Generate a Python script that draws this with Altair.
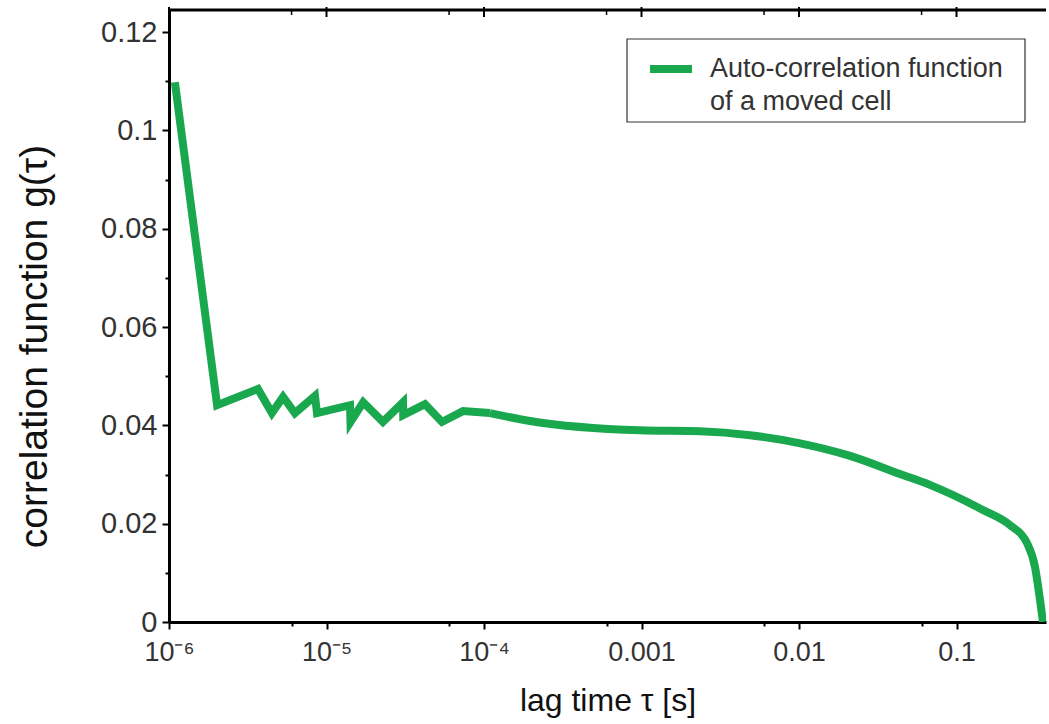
import altair as alt
import pandas as pd

# lag time tau [s] and correlation g(tau)
tau = [1.09e-6, 2.02e-6, 3.67e-6, 4.5e-6, 5.3e-6, 6.3e-6, 8.45e-6, 8.7e-6,
       1.41e-5, 1.42e-5, 1.71e-5, 2.28e-5, 3.06e-5, 3.07e-5, 4.22e-5, 5.41e-5,
       7.35e-5, 1.09e-4, 1.96e-4, 9.8e-4, 2.35e-3, 4.9e-3, 1.0e-2, 2.11e-2,
       4.38e-2, 6.77e-2, 0.147, 0.219, 0.28, 0.315, 0.339, 0.354]
g = [0.1098, 0.0441, 0.0474, 0.0425, 0.0458, 0.0425, 0.0460, 0.0425,
     0.0441, 0.0407, 0.0447, 0.0407, 0.0447, 0.0421, 0.0443, 0.0407,
     0.0429, 0.0425, 0.0409, 0.0390, 0.0388, 0.0380, 0.0364, 0.0338,
     0.0301, 0.0279, 0.0228, 0.0197, 0.0161, 0.0112, 0.0045, 0.0]

x_major = [1e-6, 1e-5, 1e-4, 1e-3, 1e-2, 1e-1]
x_major_labels = ["10⁻⁶", "10⁻⁵", "10⁻⁴", "0.001", "0.01", "0.1"]
x_minor = [6e-6, 6e-5, 6e-4, 6e-3, 6e-2]
y_major = [0, 0.02, 0.04, 0.06, 0.08, 0.1, 0.12]
y_minor = [0.01, 0.03, 0.05, 0.07, 0.09, 0.11]

legend_label = "Auto-correlation function\nof a moved cell"

df = pd.DataFrame({"tau": tau, "g": g})
ticks_major = pd.DataFrame({"tau": x_major})
ticks_minor = pd.DataFrame({"tau": x_minor})

GREEN = "#1aa84f"
FONT = "Liberation Sans"

expr = "''"
for v, lab in reversed(list(zip(x_major, x_major_labels))):
    expr = f"(abs(datum.value - {v}) < {v}*0.01) ? '{lab}' : " + expr
x_major_test = "abs(log(datum.value)/LN10 - round(log(datum.value)/LN10)) < 0.01"
y_major_test = "round(datum.value*100) % 2 == 0"

xscale = alt.Scale(type="log", domain=[1e-6, 0.37], nice=False)
yscale = alt.Scale(domain=[0, 0.1245], nice=False, zero=False)

x_enc = alt.X("tau:Q", scale=xscale,
              axis=alt.Axis(values=x_major + x_minor, labelExpr=expr, title="lag time τ [s]",
                            grid=False, domainColor="black", domainWidth=3,
                            tickColor="black", tickWidth=2,
                            tickSize={"condition": {"test": x_major_test, "value": 7}, "value": 4},
                            labelFont=FONT, labelFontSize=27, labelColor="#333333",
                            labelPadding=10, labelFlush=False,
                            titleFont=FONT, titleFontSize=32, titleFontWeight="normal",
                            titleColor="#111111", titlePadding=20))
y_enc = alt.Y("g:Q", scale=yscale,
              axis=alt.Axis(values=y_major + y_minor,
                            labelExpr=f"({y_major_test}) ? format(datum.value, '~g') : ''",
                            title="correlation function g(τ)",
                            grid=False, domainColor="black", domainWidth=3,
                            tickColor="black", tickWidth=2,
                            tickSize={"condition": {"test": y_major_test, "value": 7}, "value": 4},
                            labelFont=FONT, labelFontSize=29, labelColor="#333333",
                            labelPadding=5,
                            titleFont=FONT, titleFontSize=39, titleFontWeight="normal",
                            titleColor="#111111", titlePadding=46, titleY=336))

base = alt.Chart(df)
line_a = base.transform_filter("datum.tau <= 1.1e-4").mark_line(
    color=GREEN, strokeWidth=8, clip=True, strokeJoin="miter").encode(x=x_enc, y=y_enc)
line_b = base.transform_filter("datum.tau >= 1.0e-4").mark_line(
    color=GREEN, strokeWidth=8, clip=True, interpolate="monotone").encode(x=x_enc, y=y_enc)

one = alt.Data(values=[{"a": 1}])
# top frame line and its ticks
top_line = alt.Chart(one).mark_rule(color="black", strokeWidth=3).encode(
    x=alt.value(0), x2=alt.value(877), y=alt.value(0))
top_major = alt.Chart(ticks_major).mark_rule(color="black", strokeWidth=2).encode(
    x=alt.X("tau:Q", scale=xscale), y=alt.value(-3), y2=alt.value(7))
top_minor = alt.Chart(ticks_minor).mark_rule(color="black", strokeWidth=1.5).encode(
    x=alt.X("tau:Q", scale=xscale), y=alt.value(0), y2=alt.value(5))

box = alt.Chart(one).mark_rect(fill="white", stroke="#333333", strokeWidth=1.2).encode(
    x=alt.value(458), x2=alt.value(856), y=alt.value(29), y2=alt.value(112))
sample = alt.Chart(one).mark_rule(color=GREEN, strokeWidth=8).encode(
    x=alt.value(481), x2=alt.value(523), y=alt.value(59))
text = alt.Chart(one).mark_text(align="left", baseline="middle", font=FONT, fontSize=27,
                                color="#333333", lineBreak="\n", lineHeight=33).encode(
    x=alt.value(541), y=alt.value(59), text=alt.value(legend_label))

chart = alt.layer(line_a, line_b, top_line, top_major, top_minor, box, sample, text).properties(
    width=877, height=612,
    autosize=alt.AutoSizeParams(type="none"),
    padding={"left": 169, "top": 10, "right": 3, "bottom": 102},
).configure_view(stroke=None)

chart.save("out.html", embed_options={"renderer": "svg", "actions": False})
